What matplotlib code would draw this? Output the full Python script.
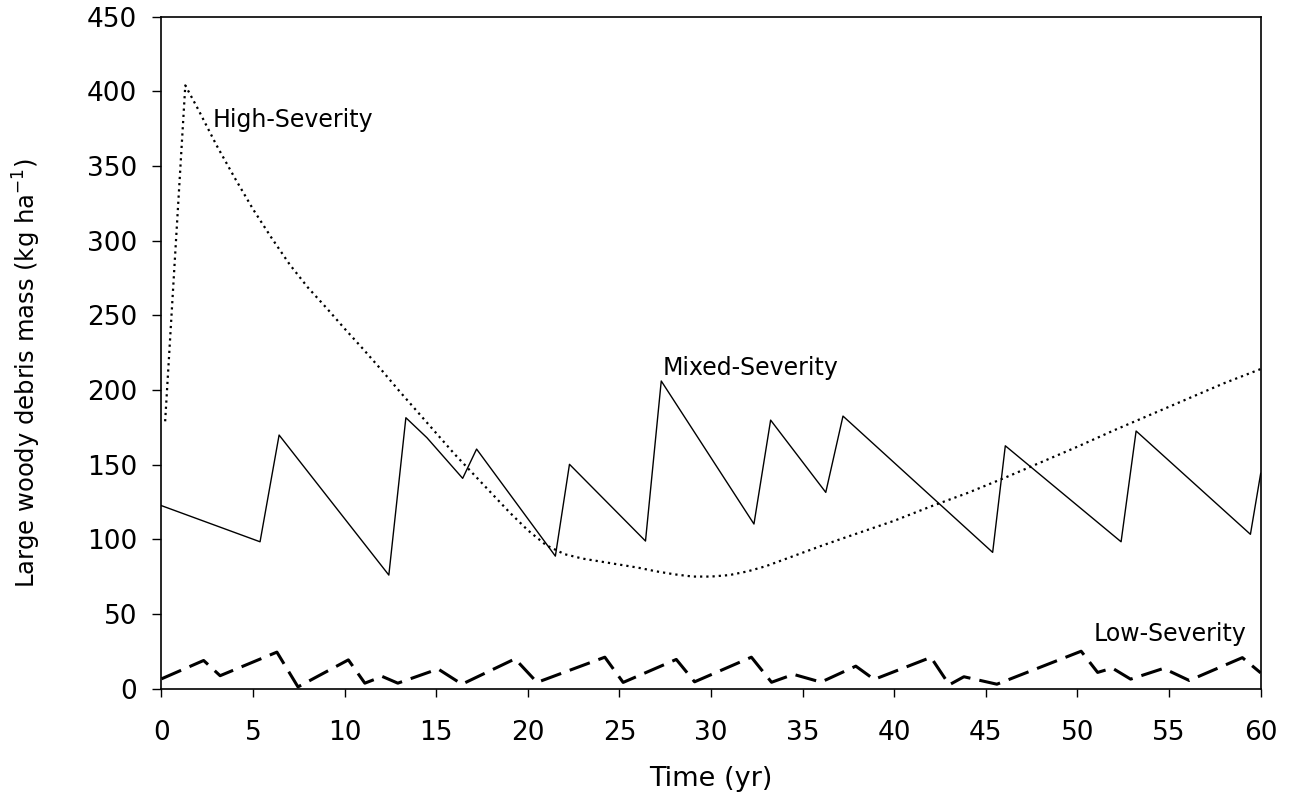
import matplotlib
matplotlib.use("Agg")
import matplotlib.pyplot as plt

# time (yr) and large woody debris mass (kg/ha)
t_high = [0.2, 1.3, 2, 3, 4, 5, 6, 7, 8, 9, 10, 11, 12, 13, 14, 15, 16, 17,
          18, 19, 20, 21, 21.5, 22, 23, 24, 25, 26, 27, 28, 29, 30, 31, 32,
          33, 34, 35, 36, 37, 38, 39, 40, 42, 44, 46, 48, 50, 52, 54, 56,
          58, 60]
v_high = [179, 404, 388, 364, 342, 321, 302, 284, 268.5, 255, 241, 227.5,
          213.5, 199, 185, 171, 157, 144, 131, 118, 106, 96, 93, 90, 87, 85,
          83, 81, 78.5, 76.5, 75, 75, 76, 78.5, 82, 86.5, 91, 95.5, 99.8,
          104, 108.2, 112.4, 122, 131, 141, 151.5, 162, 173, 183.5, 194,
          204.5, 214]

t_mixed = [0, 5.38, 6.42, 12.41, 13.34, 14.49, 16.44, 17.2, 21.5, 22.27,
           26.42, 27.28, 32.34, 33.25, 36.26, 37.2, 45.37, 46.06, 52.38, 53.2,
           59.44, 60]
v_mixed = [122.5, 98.3, 169.8, 76, 181.4, 168, 140.8, 160.4, 88.7, 150.2,
           98.8, 206, 110.2, 179.8, 131.4, 182.5, 91.2, 162.6, 98.3, 172.5,
           103.3, 144.1]

t_low = [0, 2.3, 3.2, 6.3, 7.45, 10.2, 11.1, 12.05, 12.9, 15.1, 16.4, 19.3,
         20.5, 24.2, 25.2, 28.1, 29.1, 32.2, 33.3, 34.5, 36.0, 37.9, 38.9,
         42.0, 43.0, 43.8, 45.6, 50.2, 51.1, 51.9, 52.9, 54.7, 56.1, 59.0, 60]
v_low = [6.5, 18.8, 8.6, 24.4, 1.1, 19.2, 3.6, 8.1, 3.6, 13.1, 2.9, 19.9,
         4.1, 21.0, 4.1, 19.5, 4.5, 21, 4.2, 9.5, 4.3, 15, 6.1, 20.9, 2.5,
         7.9, 2.9, 25, 10.8, 13.7, 6.3, 13.5, 5.4, 20.7, 10.5]

x_ticks = list(range(0, 61, 5))
y_ticks = list(range(0, 451, 50))

fig = plt.figure(figsize=(12.95, 7.96), dpi=100)
ax = fig.add_axes([0.1247, 0.135, 0.8488, 0.844])

ax.plot(t_high, v_high, color="black", lw=1.6, linestyle=(0, (1, 1.8)))
ax.plot(t_mixed, v_mixed, color="black", lw=1.0)
ax.plot(t_low, v_low, color="black", lw=2.2, linestyle=(0, (7, 3)))

ax.text(2.8, 376, "High-Severity", fontsize=17, va="baseline")
ax.text(27.35, 210, "Mixed-Severity", fontsize=17, va="baseline")
ax.text(59.2, 32, "Low-Severity", fontsize=17, va="baseline", ha="right")

ax.set_xlim(0, 60)
ax.set_ylim(0, 450)
ax.set_xticks(x_ticks)
ax.set_yticks(y_ticks)
ax.tick_params(axis="x", direction="out", length=6, width=1, labelsize=19, pad=17)
ax.tick_params(axis="y", direction="out", length=6.5, width=1, labelsize=19, pad=11)
for s in ax.spines.values():
    s.set_linewidth(1.2)

ax.set_xlabel("Time (yr)", fontsize=19.5)
ax.set_ylabel(r"Large woody debris mass (kg ha$^{-1}$)", fontsize=17.5)
ax.xaxis.set_label_coords(0.5, -0.116)
ax.yaxis.set_label_coords(-0.108, 0.47)

fig.savefig("out.png", dpi=100)
